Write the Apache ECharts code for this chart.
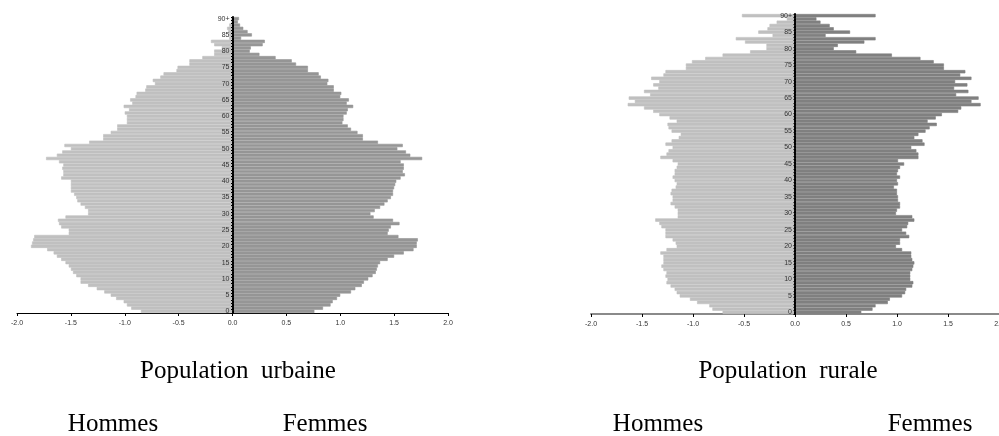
<!DOCTYPE html>
<html>
<head>
<meta charset="utf-8">
<script src="https://cdn.jsdelivr.net/npm/echarts@6/dist/echarts.min.js"></script>
<style>
html,body{margin:0;padding:0;background:#fff;}
#chart{width:999px;height:436px;}
</style>
</head>
<body>
<div id="chart"></div>
<script>
// Ages 0..90 (90 = "90+")
const ages = [];
for (let a = 0; a <= 90; a++) ages.push(a === 90 ? '90+' : String(a));

const xTicks = [-2.0, -1.5, -1.0, -0.5, 0.0, 0.5, 1.0, 1.5, 2.0];

// Population urbaine (% of total), ages 0..90
const urbanMen = [0.85,0.94,0.98,1.01,1.08,1.13,1.19,1.26,1.34,1.41,1.41,1.45,1.48,1.50,1.52,1.55,1.59,1.63,1.66,1.72,
1.87,1.86,1.85,1.84,1.52,1.52,1.59,1.61,1.62,1.55,1.34,1.34,1.37,1.41,1.44,1.45,1.47,1.50,1.50,1.50,
1.50,1.59,1.57,1.57,1.58,1.57,1.61,1.73,1.63,1.58,1.50,1.56,1.33,1.20,1.20,1.13,1.07,1.07,0.98,0.98,
0.98,1.00,0.96,1.01,0.93,0.95,0.90,0.89,0.81,0.80,0.72,0.74,0.67,0.64,0.52,0.51,0.40,0.40,0.28,0.17,
0.17,0.10,0.17,0.20,0.03,0.03,0.04,0.05,0.03,0.01,0.01];
const urbanWomen = [0.76,0.84,0.91,0.93,0.97,1.00,1.10,1.14,1.20,1.22,1.26,1.30,1.33,1.34,1.35,1.37,1.44,1.50,1.59,1.68,
1.71,1.71,1.72,1.54,1.44,1.45,1.47,1.55,1.49,1.31,1.28,1.32,1.37,1.41,1.44,1.47,1.49,1.49,1.50,1.51,
1.52,1.56,1.60,1.58,1.59,1.59,1.56,1.76,1.65,1.61,1.53,1.58,1.35,1.21,1.21,1.16,1.10,1.07,1.02,1.03,
1.03,1.06,1.07,1.12,1.06,1.08,1.00,1.01,0.94,0.94,0.88,0.89,0.82,0.80,0.70,0.70,0.59,0.55,0.40,0.25,
0.16,0.17,0.28,0.30,0.08,0.18,0.14,0.10,0.07,0.05,0.06];

// Population rurale (% of total), ages 0..90
const ruralMen = [0.71,0.81,0.84,0.96,1.03,1.13,1.16,1.18,1.22,1.26,1.25,1.27,1.26,1.29,1.31,1.29,1.29,1.29,1.32,1.26,
1.16,1.17,1.20,1.27,1.27,1.27,1.31,1.33,1.37,1.15,1.15,1.15,1.18,1.22,1.20,1.20,1.22,1.21,1.17,1.16,
1.18,1.20,1.18,1.18,1.16,1.15,1.20,1.32,1.26,1.24,1.20,1.27,1.21,1.14,1.12,1.21,1.24,1.25,1.16,1.23,
1.33,1.39,1.48,1.64,1.57,1.63,1.42,1.48,1.34,1.39,1.33,1.41,1.29,1.27,1.07,1.07,1.01,0.88,0.71,0.44,
0.28,0.28,0.49,0.58,0.22,0.36,0.27,0.25,0.18,0.08,0.52];
const ruralWomen = [0.65,0.76,0.79,0.91,0.93,1.05,1.08,1.09,1.15,1.16,1.13,1.13,1.13,1.15,1.16,1.17,1.15,1.14,1.14,1.05,
0.99,1.03,1.03,1.12,1.09,1.05,1.10,1.11,1.17,1.15,0.99,1.00,1.03,1.03,1.01,1.01,1.00,1.00,0.97,1.01,
1.00,1.03,1.00,1.01,1.03,1.07,1.01,1.21,1.21,1.19,1.14,1.27,1.25,1.17,1.21,1.28,1.32,1.39,1.30,1.38,
1.44,1.60,1.63,1.82,1.73,1.80,1.58,1.70,1.56,1.69,1.57,1.73,1.62,1.67,1.46,1.46,1.36,1.23,0.95,0.60,
0.38,0.42,0.68,0.79,0.30,0.54,0.38,0.34,0.25,0.21,0.79];

const titles = ['Population  urbaine', 'Population  rurale'];
const sexLabels = ['Hommes', 'Femmes'];

const chart = echarts.init(document.getElementById('chart'), null, {renderer: 'canvas'});

function xAxisCfg(gridIndex, lineColor, lineWidth) {
  return {
    type: 'value', gridIndex: gridIndex, min: -2, max: 2, interval: 0.5,
    axisLine: {show: true, onZero: false, lineStyle: {color: lineColor, width: lineWidth}},
    axisTick: {show: true, length: 3, lineStyle: {color: '#000', width: 1}},
    axisLabel: {fontSize: 7, color: '#333', fontFamily: 'Liberation Sans', margin: 7,
      formatter: v => v.toFixed(1)},
    splitLine: {show: false}
  };
}
// labelShift: distance from grid left edge to the zero line, so labels sit beside the centre axis
function yAxisCfg(gridIndex, labelShift) {
  return {
    type: 'category', gridIndex: gridIndex, data: ages, z: 10,
    axisLine: {show: true, onZero: true, lineStyle: {color: '#000', width: 2, type: [2.2, 1.05]}},
    axisTick: {show: true, length: 1.5, interval: 0, lineStyle: {color: '#000', width: 1}},
    axisLabel: {fontSize: 7, color: '#333', fontFamily: 'Liberation Sans', margin: -labelShift + 3,
      interval: (i) => i % 5 === 0},
    splitLine: {show: false}
  };
}
function barSeries(idx, vals, color, neg) {
  return {
    type: 'bar', xAxisIndex: idx, yAxisIndex: idx,
    data: neg ? vals.map(v => -v) : vals,
    barCategoryGap: '0%', barGap: '-100%',
    itemStyle: {color: color, borderColor: color, borderWidth: 0.6},
    silent: true, animation: false
  };
}

const txt = (text, x, y) => ({
  type: 'text', x: x, y: y,
  style: {text: text, font: '25px "Liberation Serif"', fill: '#000', textAlign: 'center', textVerticalAlign: 'middle'}
});

chart.setOption({
  animation: false,
  backgroundColor: '#fff',
  grid: [
    {left: 17, top: 17, width: 431, height: 296, containLabel: false, outerBoundsMode: 'none'},
    {left: 591, top: 14, width: 408, height: 300, containLabel: false, outerBoundsMode: 'none'}
  ],
  xAxis: [xAxisCfg(0, '#000', 1), xAxisCfg(1, '#8a8a8a', 2)],
  yAxis: [yAxisCfg(0, 215.5), yAxisCfg(1, 204)],
  series: [
    barSeries(0, urbanMen, '#c0c0c0', true),
    barSeries(0, urbanWomen, '#969696', false),
    barSeries(1, ruralMen, '#c0c0c0', true),
    barSeries(1, ruralWomen, '#808080', false)
  ],
  graphic: [
    txt(titles[0], 238, 371),
    txt(titles[1], 788, 371),
    txt(sexLabels[0], 113, 424),
    txt(sexLabels[1], 325, 424),
    txt(sexLabels[0], 658, 424),
    txt(sexLabels[1], 930, 424)
  ]
});
</script>
</body>
</html>
